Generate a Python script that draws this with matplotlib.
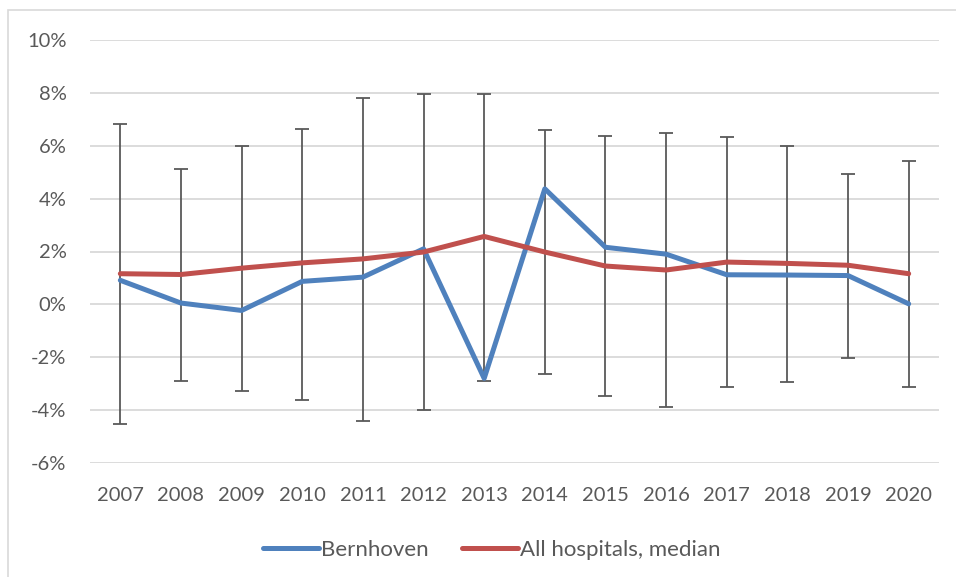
import matplotlib
matplotlib.use("Agg")
import matplotlib.pyplot as plt
from matplotlib.patches import Rectangle
from matplotlib.ticker import FuncFormatter

years = ["2007", "2008", "2009", "2010", "2011", "2012", "2013",
         "2014", "2015", "2016", "2017", "2018", "2019", "2020"]
bernhoven = [0.91, 0.05, -0.23, 0.87, 1.03, 2.10, -2.80,
             4.37, 2.16, 1.90, 1.12, 1.11, 1.09, 0.02]
median = [1.16, 1.13, 1.37, 1.57, 1.72, 1.98, 2.57,
          1.98, 1.45, 1.30, 1.60, 1.55, 1.48, 1.16]
range_high = [6.82, 5.13, 5.99, 6.65, 7.82, 7.97, 7.95,
              6.59, 6.35, 6.48, 6.33, 5.99, 4.93, 5.43]
range_low = [-4.53, -2.89, -3.27, -3.60, -4.40, -4.00, -2.90,
             -2.64, -3.45, -3.87, -3.14, -2.92, -2.04, -3.13]

BLUE = "#4f81bd"
RED = "#c0504d"
GREY = "#595959"
GRID = "#d9d9d9"
FONT_SIZE = 14.5

plt.rcParams['font.family'] = ['Lato', 'DejaVu Sans']

fig = plt.figure(figsize=(9.56, 5.77), dpi=100)
# chart frame, cut off at the right and bottom edges
fig.patches.append(Rectangle((8 / 956, -0.01), 1.0, 1 - 10 / 577 + 0.01,
                             transform=fig.transFigure, fill=False,
                             edgecolor=GRID, linewidth=1.2))

ax = fig.add_axes([90 / 956, 1 - 463 / 577, 849 / 956, 423 / 577])
x = list(range(len(years)))

lower = [m - lo for m, lo in zip(median, range_low)]
upper = [hi - m for m, hi in zip(median, range_high)]
ax.errorbar(x, median, yerr=[lower, upper], fmt='none', ecolor=GREY,
            elinewidth=1.3, capsize=5, capthick=1.3, zorder=2)

ax.plot(x, bernhoven, color=BLUE, linewidth=3.6, label="Bernhoven", zorder=3,
        solid_capstyle='round', solid_joinstyle='round')
ax.plot(x, median, color=RED, linewidth=3.6, label="All hospitals, median", zorder=3,
        solid_capstyle='round', solid_joinstyle='round')

ax.set_xlim(-0.5, len(years) - 0.5)
ax.set_ylim(-6, 10)
ax.set_yticks(range(-6, 11, 2))
ax.yaxis.set_major_formatter(FuncFormatter(lambda v, p: f"{int(v)}%"))
ax.set_xticks(x)
ax.set_xticklabels(years)
ax.grid(axis='y', color=GRID, linewidth=1.3)
ax.set_axisbelow(True)
for s in ax.spines.values():
    s.set_visible(False)
ax.tick_params(length=0, labelsize=FONT_SIZE, colors=GREY)
ax.tick_params(axis='x', pad=17)
ax.tick_params(axis='y', pad=17)

ax.legend(loc='center', bbox_to_anchor=(0.4735, -0.205), ncol=2, frameon=False,
          fontsize=16, labelcolor=GREY, handlelength=2.5, handletextpad=0.12,
          columnspacing=1.5)

fig.savefig("out.png", dpi=100)
